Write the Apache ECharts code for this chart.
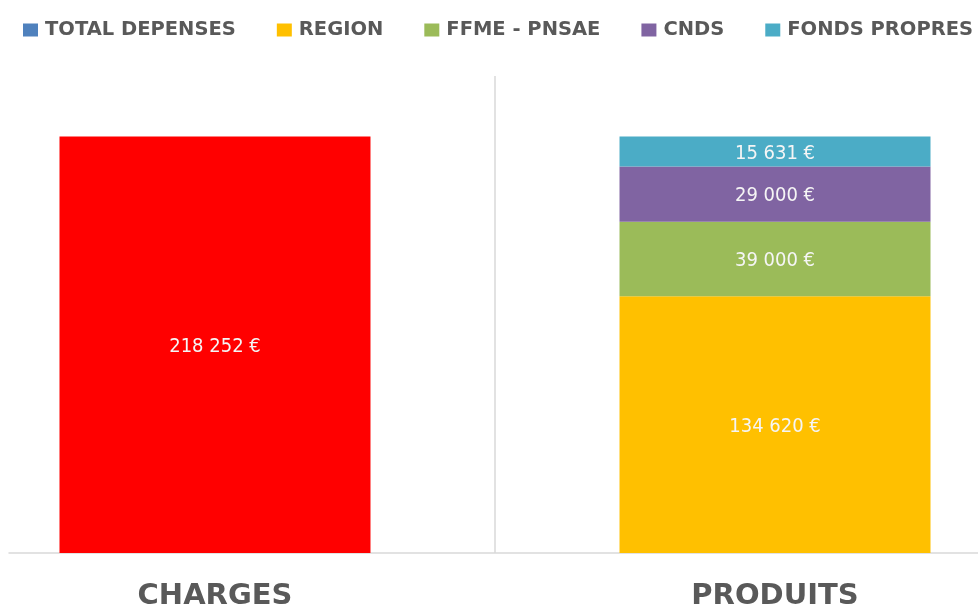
<!DOCTYPE html>
<html>
<head>
<meta charset="utf-8">
<script src="https://cdn.jsdelivr.net/npm/echarts@6/dist/echarts.min.js"></script>
<style>
  html, body { margin: 0; padding: 0; background: #fff; }
  #chart { width: 978px; height: 608px; }
</style>
</head>
<body>
<div id="chart"></div>
<script>
  // categories and values
  const categories = ['CHARGES', 'PRODUITS'];
  const totalDepenses = [218252, '-'];
  const region = ['-', 134620];
  const ffme = ['-', 39000];
  const cnds = ['-', 29000];
  const fondsPropres = ['-', 15631];

  const narrow = '"Liberation Sans Narrow", "DejaVu Sans Condensed", sans-serif';
  const wide = '"DejaVu Sans", sans-serif';

  function euro(p) {
    return String(p.value).replace(/\B(?=(\d{3})+(?!\d))/g, ' ') + ' €';
  }

  const labelOption = {
    show: true,
    position: 'inside',
    offset: [0, 2],
    color: '#f5f5f5',
    fontFamily: narrow,
    fontSize: 20,
    formatter: euro
  };

  function barSeries(name, stack, data, color) {
    return {
      name: name,
      type: 'bar',
      stack: stack,
      barWidth: 311,
      barGap: '-76.2%',
      itemStyle: { color: color },
      label: labelOption,
      data: data
    };
  }

  const chart = echarts.init(document.getElementById('chart'));

  const totalSeries = barSeries('TOTAL DEPENSES', 'a', totalDepenses.map(function (v) {
    // the charges bar is red in the source, the legend keeps the blue
    return v === '-' ? v : { value: v, itemStyle: { color: '#ff0000' } };
  }), '#4f81bd');

  const option = {
    animation: false,
    legend: {
      left: 23,
      top: 20,
      width: 960,
      padding: 0,
      icon: 'rect',
      itemWidth: 15,
      itemHeight: 13,
      itemGap: 41,
      textStyle: { color: '#595959', fontSize: 19.5, fontWeight: 'bold', fontFamily: wide, padding: [0, 0, 0, 2] }
    },
    grid: { left: 9, right: -3, top: 76, bottom: 55, outerBoundsMode: 'none' },
    xAxis: {
      type: 'category',
      data: categories,
      axisLine: { lineStyle: { color: '#d9d9d9', width: 1.5 } },
      axisTick: { show: false },
      splitLine: {
        show: true,
        // only the middle boundary is visible in the source
        lineStyle: { color: ['rgba(0,0,0,0)', '#d9d9d9', 'rgba(0,0,0,0)'], width: 1.5 }
      },
      axisLabel: {
        margin: 29,
        color: '#595959',
        fontFamily: wide,
        fontWeight: 'bold',
        fontSize: 29,
        formatter: function (v, i) {
          return i === 0 ? '{l|' + v + '}' : '{r|' + v + '}';
        },
        rich: {
          l: { padding: [0, 74, 0, 0], color: '#595959', fontFamily: wide, fontWeight: 'bold', fontSize: 29 },
          r: { padding: [0, 0, 0, 74], color: '#595959', fontFamily: wide, fontWeight: 'bold', fontSize: 29 }
        }
      }
    },
    yAxis: {
      type: 'value',
      min: 0,
      max: 250000,
      show: false
    },
    series: [
      totalSeries,
      barSeries('REGION', 'b', region, '#ffc000'),
      barSeries('FFME - PNSAE', 'b', ffme, '#9bbb59'),
      barSeries('CNDS', 'b', cnds, '#8064a2'),
      barSeries('FONDS PROPRES', 'b', fondsPropres, '#4bacc6')
    ]
  };

  chart.setOption(option);
</script>
</body>
</html>
